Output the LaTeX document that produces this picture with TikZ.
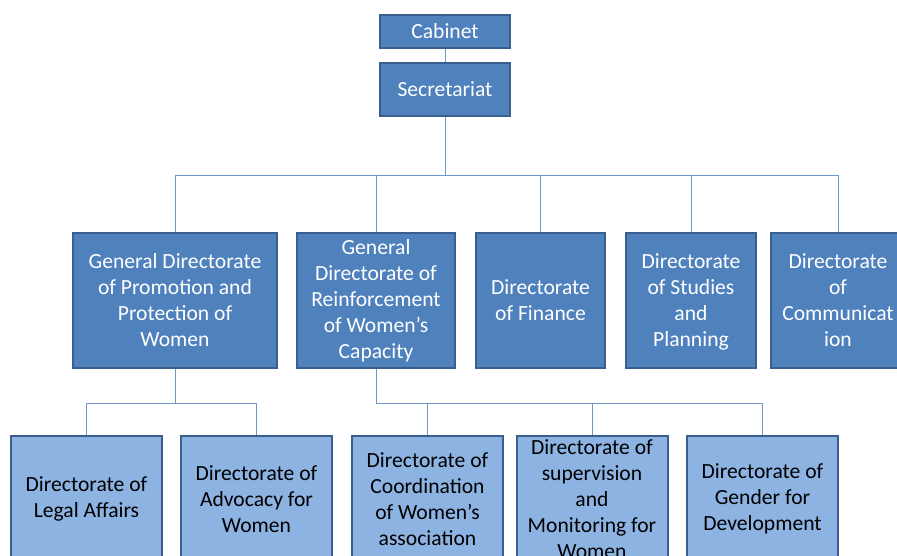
\documentclass[tikz,border=0pt]{standalone}
\usepackage{fontspec}
\setmainfont{Carlito}

\definecolor{unitfill}{HTML}{4F81BD}
\definecolor{unitline}{HTML}{3A5F8E}
\definecolor{subfill}{HTML}{8DB3E2}
\definecolor{linkcolor}{HTML}{7096CC}

\tikzset{
	every unit/.style={draw=unitline, line width=2pt, align=center, inner sep=0pt,
		font=\fontsize{21.6}{26}\selectfont},
	top unit/.style={fill=unitfill, text=white},
	sub unit/.style={fill=subfill, text=black},
	link/.style={draw=linkcolor, line width=1pt}
}

\begin{document}
\begin{tikzpicture}[x=1pt, y=-1pt]

	\useasboundingbox (0,0) rectangle (897,555);
	\clip (0,0) rectangle (897,555);

	% head
	\node [every unit, top unit, minimum width=130, minimum height=33] (cabinet) at (445,31.5) {Cabinet};
	\node [every unit, top unit, minimum width=130, minimum height=53] (secret) at (445,89.5) {Secretariat};

	% directorates
	\foreach \n/\x/\w/\t in {
		promo/175/204/{General Directorate\\of Promotion and\\Protection of\\Women},
		reinf/376/158/{General\\Directorate of\\Reinforcement\\of Women’s\\Capacity},
		finance/540.5/129/{Directorate\\of Finance},
		studies/691/130/{\strut Directorate\\of Studies\\and\\Planning},
		comm/838/134/{Directorate\\of\\Communicat\\ion}}
		\node [every unit, top unit, minimum width=\w, minimum height=135] (\n) at (\x,300.5) {\t};

	% sub directorates
	\foreach \n/\x/\t in {
		legal/86.5/{Directorate of\\Legal Affairs},
		advocacy/256.5/{Directorate of\\Advocacy for\\Women},
		coord/427.5/{Directorate of\\Coordination\\of Women’s\\association},
		monitor/592/{Directorate of\\supervision\\and\\Monitoring for\\Women},
		gender/762.5/{Directorate of\\Gender for\\Development}}
		\node [every unit, sub unit, minimum width=151, minimum height=126] (\n) at (\x,499) {\t};

	% lines from cabinet down
	\draw [link] (cabinet.south) -- (secret.north);
	\coordinate (top bus) at (445,175);
	\draw [link] (secret.south) -- (top bus);
	\foreach \n in {promo,reinf,finance,studies,comm}
		\draw [link] (top bus) -| (\n.north);

	% lines to sub directorates
	\coordinate (left bus) at (175,403);
	\draw [link] (promo.south) -- (left bus);
	\foreach \n in {legal,advocacy}
		\draw [link] (left bus) -| (\n.north);

	\coordinate (right bus) at (376,403);
	\draw [link] (reinf.south) -- (right bus);
	\foreach \n in {coord,monitor,gender}
		\draw [link] (right bus) -| (\n.north);

\end{tikzpicture}
\end{document}
